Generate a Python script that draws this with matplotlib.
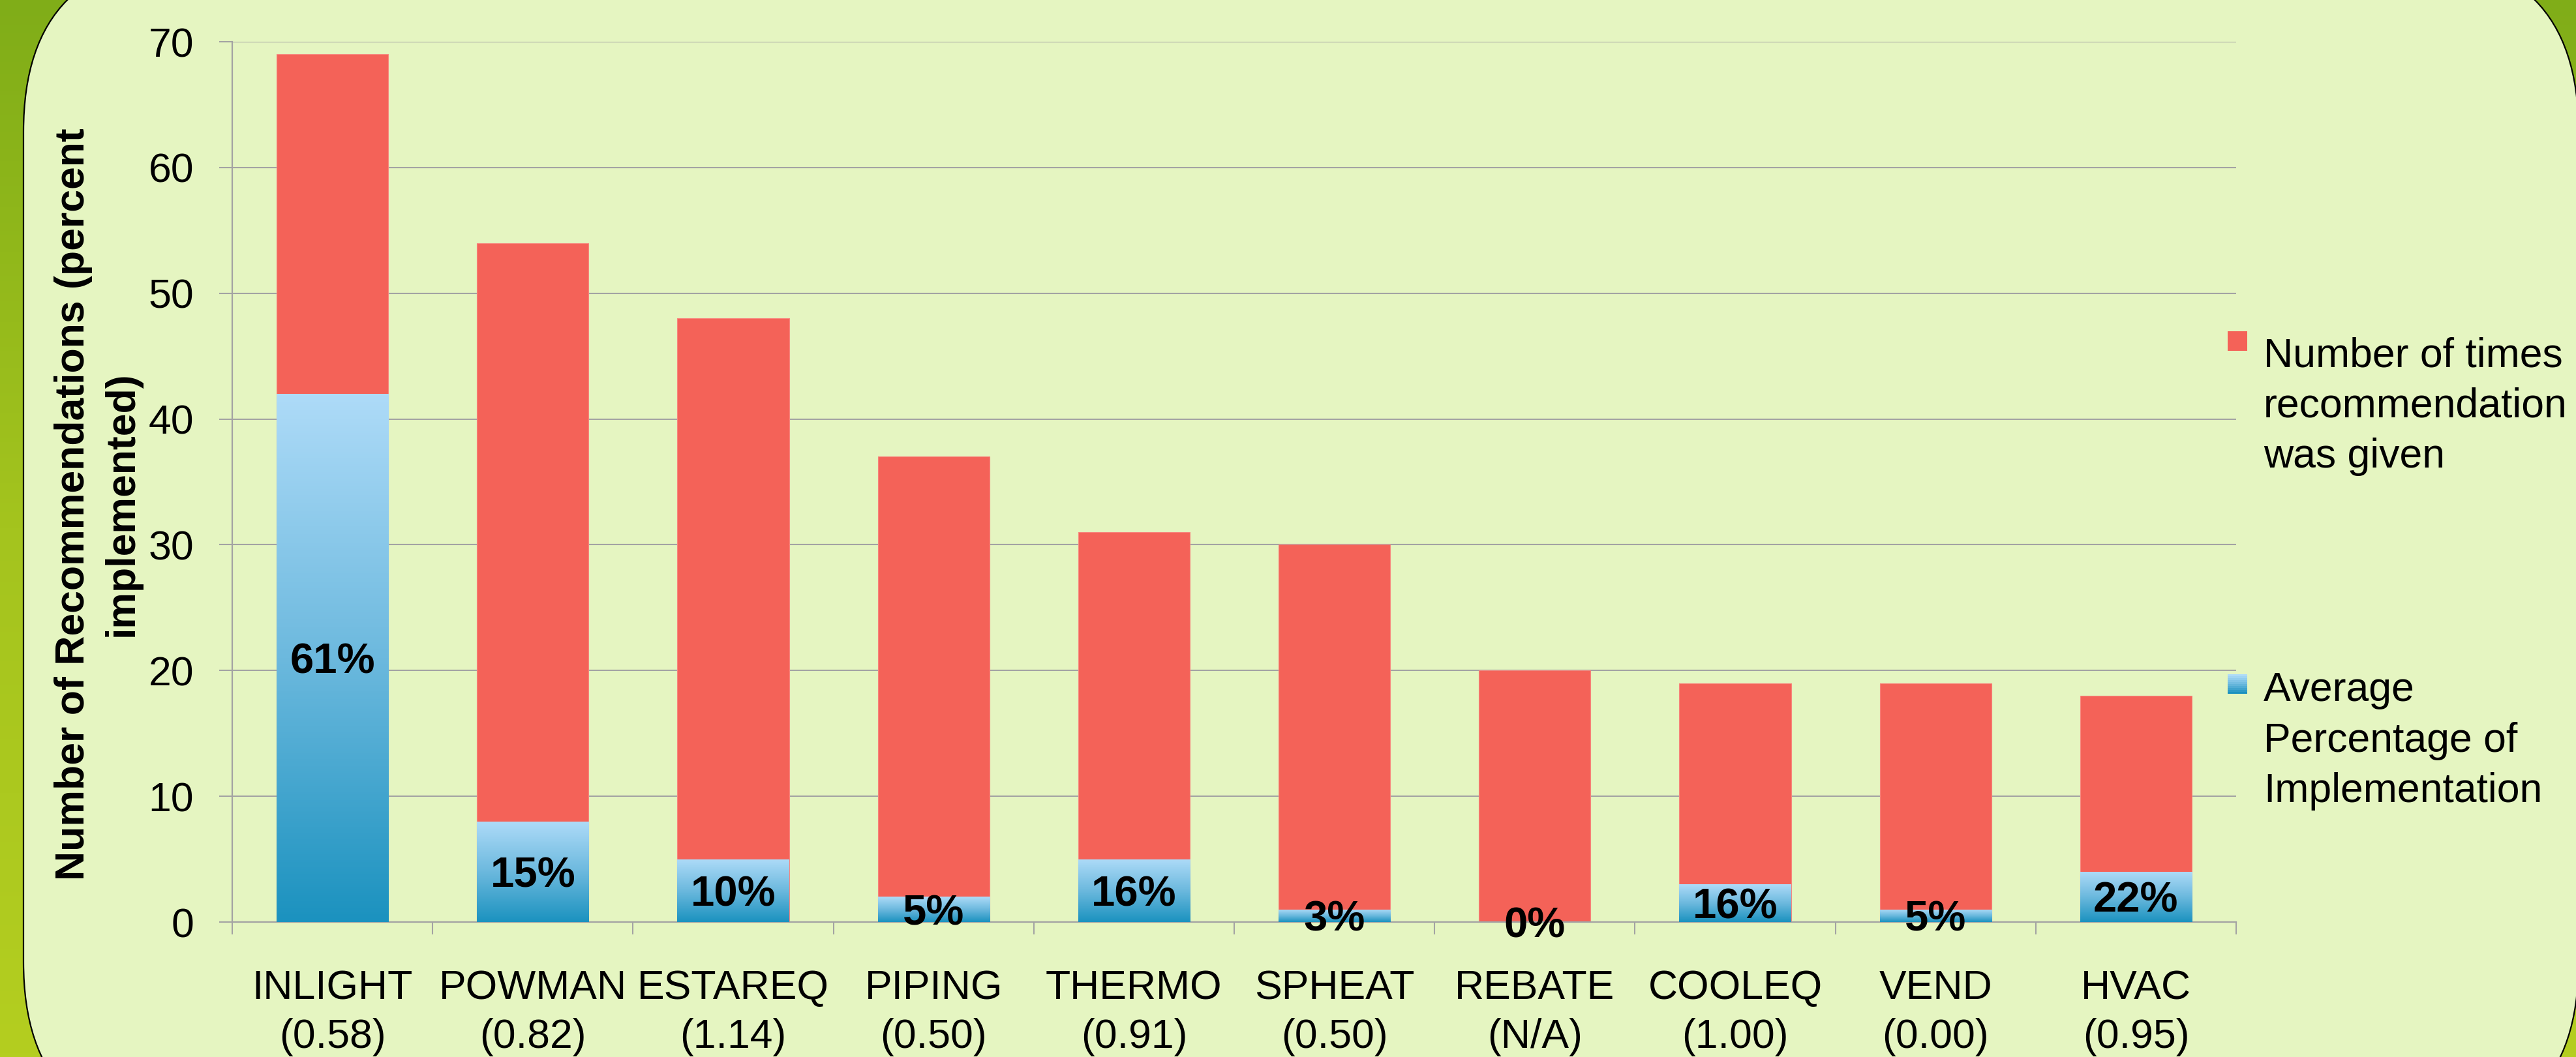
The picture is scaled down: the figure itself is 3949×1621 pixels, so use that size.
import matplotlib
matplotlib.use("Agg")
import matplotlib.pyplot as plt
import numpy as np
from matplotlib.colors import LinearSegmentedColormap
from matplotlib.patches import FancyBboxPatch, Rectangle
from matplotlib.transforms import IdentityTransform

plt.rcParams['font.family'] = ['Liberation Sans', 'DejaVu Sans']

# data
codes = ["INLIGHT", "POWMAN", "ESTAREQ", "PIPING", "THERMO",
         "SPHEAT", "REBATE", "COOLEQ", "VEND", "HVAC"]
ratios = ["(0.58)", "(0.82)", "(1.14)", "(0.50)", "(0.91)",
          "(0.50)", "(N/A)", "(1.00)", "(0.00)", "(0.95)"]
times_given = [69, 54, 48, 37, 31, 30, 20, 19, 19, 18]
implemented = [42, 8, 5, 2, 5, 1, 0, 3, 1, 4]
pct_labels = ["61%", "15%", "10%", "5%", "16%", "3%", "0%", "16%", "5%", "22%"]

W, H = 3949, 1621
DPI = 100

RED = "#f46258"
GRID = "#a3a3a3"
BG = "#e5f5c1"
blue_cmap = LinearSegmentedColormap.from_list("blue", ["#1b92bf", "#6cb9de", "#aedbf8"])
green_cmap = LinearSegmentedColormap.from_list("green", ["#80ad18", "#a4c41e", "#b4ce20"])

fig = plt.figure(figsize=(W / DPI, H / DPI), dpi=DPI)

# background: green leaf area with a rounded pale panel on top
ax_bg = fig.add_axes([0, 0, 1, 1], zorder=-10)
ax_bg.imshow(np.linspace(0, 1, 256).reshape(-1, 1), cmap=green_cmap,
             aspect="auto", extent=(0, 1, 0, 1), origin="upper")
ax_bg.set_axis_off()
panel = FancyBboxPatch((36, H - 1745), 3953 - 36, 1745 + 68,
                       boxstyle="round,pad=0,rounding_size=270",
                       transform=IdentityTransform(), facecolor=BG,
                       edgecolor="black", linewidth=1.6)
ax_bg.add_artist(panel)

ax = fig.add_axes([356 / W, 1 - 1414 / H, (3428 - 356) / W, (1414 - 64) / H])
ax.set_facecolor("none")

x = np.arange(len(codes))
bw = 0.557

ax.bar(x, times_given, width=bw, color=RED, edgecolor="#f7877e",
       linewidth=0.8, zorder=2)
blue_bars = ax.bar(x, implemented, width=bw, color="none", zorder=3)
grad = np.linspace(0, 1, 256).reshape(-1, 1)
for b in blue_bars:
    if b.get_height() <= 0:
        continue
    im = ax.imshow(grad, cmap=blue_cmap, aspect="auto", origin="lower",
                   extent=(b.get_x(), b.get_x() + b.get_width(), 0, b.get_height()),
                   zorder=3)
    im.set_clip_path(b)

for i, (n, lab) in enumerate(zip(implemented, pct_labels)):
    ax.text(i, n / 2, lab, ha="center", va="center_baseline", fontsize=47,
            fontweight="bold", zorder=5)

ax.set_xlim(-0.5, len(codes) - 0.5)
ax.set_ylim(0, 70)
ax.set_yticks(range(0, 71, 10))
ax.yaxis.grid(True, color=GRID, linewidth=1.5, zorder=0)
ax.set_axisbelow(True)

ax.set_xticks(x)
ax.set_xticklabels([f"{c}\n{r}" for c, r in zip(codes, ratios)])
for t in ax.get_xticklabels():
    t.set_linespacing(1.35)
ax.set_xticks(np.arange(-0.5, len(codes), 1.0), minor=True)
ax.tick_params(axis="x", which="major", length=0, pad=52, labelsize=45)
ax.tick_params(axis="x", which="minor", length=13.7, width=1.5, color=GRID)
ax.tick_params(axis="y", length=14.4, width=1.5, color=GRID, pad=28, labelsize=45)

for s in ["top", "right"]:
    ax.spines[s].set_visible(False)
for s in ["left", "bottom"]:
    ax.spines[s].set_color(GRID)
    ax.spines[s].set_linewidth(1.6)

fig.text(150 / W, 1 - 773 / H, "Number of Recommendations (percent\nimplemented)",
         rotation=90, ha="center", va="center", multialignment="center",
         fontsize=45, fontweight="bold", linespacing=1.35)

# legend, placed by hand like the original
leg_items = [(RED, "Number of times\nrecommendation\nwas given", 508, 717),
             (None, "Average\nPercentage of\nImplementation", 1034, 1230)]
for color, text, sq_top, base in leg_items:
    if color:
        ax_bg.add_artist(Rectangle((3415, H - sq_top - 30), 30, 30, transform=IdentityTransform(),
                                   facecolor=color, edgecolor="none"))
    else:
        for k in range(10):
            ax_bg.add_artist(Rectangle((3415, H - sq_top - 30 + 3 * k), 30, 3,
                                       transform=IdentityTransform(),
                                       facecolor=blue_cmap(k / 9), edgecolor="none"))
    fig.text(3470 / W, 1 - base / H, text, ha="left", va="baseline",
             fontsize=45, linespacing=1.4)

fig.savefig("out.png", dpi=DPI)
